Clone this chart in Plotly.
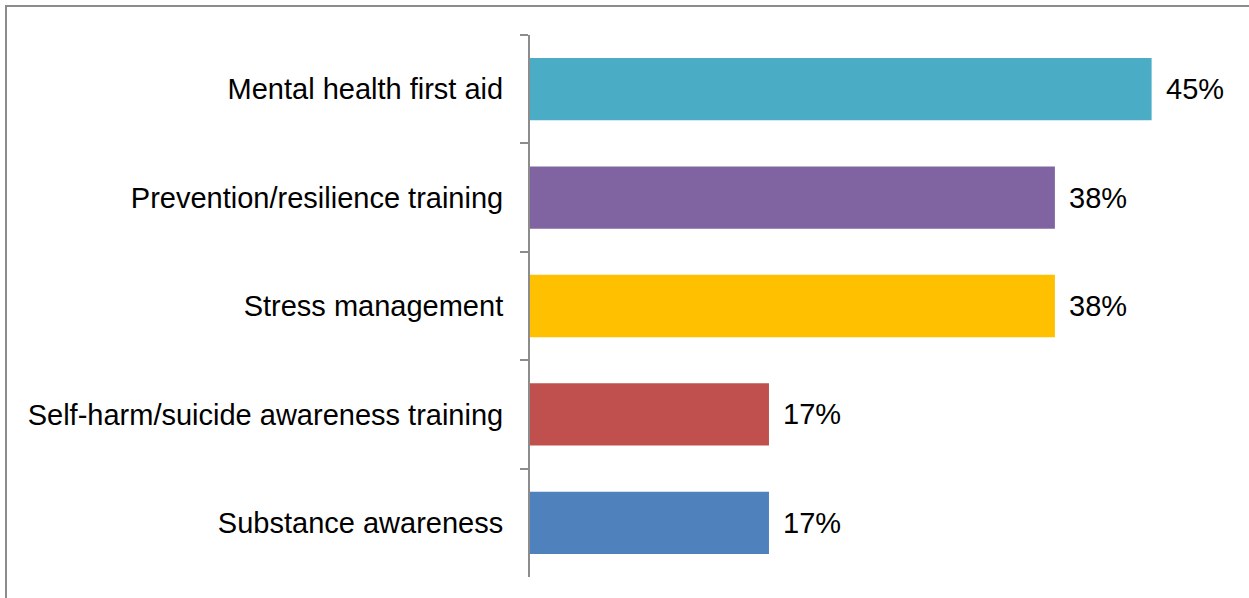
import plotly.graph_objects as go

CATEGORIES = [
    "Mental health first aid",
    "Prevention/resilience training",
    "Stress management",
    "Self-harm/suicide awareness training",
    "Substance awareness",
]
VALUES = [45, 38, 38, 17.3, 17.3]
COLORS = ["#4BACC6", "#8064A2", "#FFC000", "#C0504D", "#4F81BD"]

W, H = 1249, 598
L, R, T, B = 530, 9, 35, H - 577
GRAY = "#8C8C8C"


def px_to_paper(x, y):
    pw = W - L - R
    ph = H - T - B
    return (x - L) / pw, 1 - (y - T) / ph


fig = go.Figure(go.Bar(
    x=VALUES,
    y=CATEGORIES,
    orientation="h",
    marker=dict(color=COLORS, line=dict(width=0)),
    width=0.575,
    hoverinfo="skip",
))

for cat, val in zip(CATEGORIES, VALUES):
    fig.add_annotation(
        x=val, y=cat, text=f"{val:.0f}%", showarrow=False,
        xanchor="left", xshift=12, font=dict(size=29, color="#000000"),
    )

# outer chart border (top and left edges visible)
x0, y0 = px_to_paper(6, 6)
x1, y1 = px_to_paper(W + 10, H + 10)
fig.add_shape(type="rect", xref="paper", yref="paper", x0=x0, y0=y1, x1=x1, y1=y0,
              line=dict(color=GRAY, width=2), fillcolor="rgba(0,0,0,0)", layer="below")

fig.update_layout(
    width=W,
    height=H,
    margin=dict(l=L, r=R, t=T, b=B, autoexpand=False),
    paper_bgcolor="white",
    plot_bgcolor="white",
    font=dict(family="Liberation Sans, Arial, sans-serif", size=29, color="#000000"),
    showlegend=False,
)
fig.update_xaxes(range=[0, 51.4], visible=False, showgrid=False, zeroline=False)
fig.update_yaxes(
    autorange="reversed",
    showline=True, linecolor=GRAY, linewidth=2,
    ticks="outside", tickson="boundaries", ticklen=8, tickcolor=GRAY, tickwidth=1.5,
    ticklabelstandoff=19,
    showgrid=False,
)

# drop the default 8px page margin so the figure sits at the window's corner
fig.write_html("out.html", config={"displayModeBar": False},
               post_script="document.body.style.margin='0';")
